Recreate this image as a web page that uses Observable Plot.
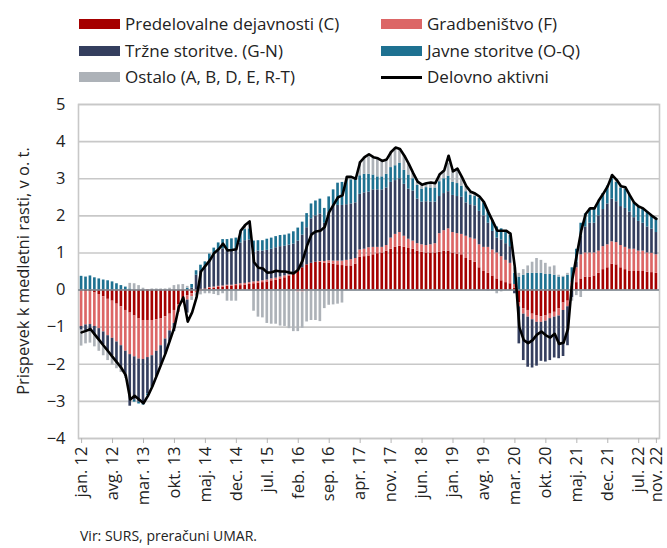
<!DOCTYPE html>
<html>
<head>
<meta charset="utf-8">
<script src="https://cdn.jsdelivr.net/npm/d3@7"></script>
<script src="https://cdn.jsdelivr.net/npm/@observablehq/plot@0.6"></script>
<style>
  html, body { margin: 0; padding: 0; background: #fff; }
  #wrap { position: relative; width: 667px; height: 548px; overflow: hidden;
          font-family: "Open Sans", "DejaVu Sans", sans-serif; color: #222; }
  .leg { position: absolute; font-size: 17px; line-height: 22px; height: 22px; white-space: nowrap; }
  .sw { display: inline-block; width: 41px; height: 10px; vertical-align: middle; margin-right: 5px; position: relative; top: -1px; }
  .swl { display: inline-block; width: 41px; height: 3px; vertical-align: middle; margin-right: 5px; background: #000; position: relative; top: -1px; }
  #ytitle { position: absolute; left: 22px; top: 271px; transform: translate(-50%, -50%) rotate(-90deg);
            font-size: 16.5px; white-space: nowrap; }
  #caption { position: absolute; left: 80px; top: 526px; font-size: 14px; white-space: nowrap; }
  #chart { position: absolute; left: 0; top: 90px; }
</style>
</head>
<body>
<div id="wrap">
  <div id="legend"></div>
  <div id="ytitle">Prispevek k medletni rasti, v o. t.</div>
  <div id="chart"></div>
  <div id="caption">Vir: SURS, preračuni UMAR.</div>
</div>
<script>
// ---- Data (contributions to y-o-y growth, p.p.), monthly jan 2012 – nov 2022 ----
const seriesNames = ["Predelovalne dejavnosti (C)", "Gradbeništvo (F)", "Tržne storitve. (G-N)", "Javne storitve (O-Q)", "Ostalo (A, B, D, E, R-T)"];
const lineName = "Delovno aktivni";
const seriesColors = ["#A50000", "#DC6666", "#343E5E", "#1E7191", "#ADB2B8"];

const manufacturing = [
  -0.03,-0.04,-0.05,-0.08,-0.12,-0.18,-0.25,-0.3,-0.38,-0.45,-0.55,-0.62,
  -0.7,-0.78,-0.82,-0.82,-0.82,-0.8,-0.78,-0.72,-0.65,-0.55,-0.4,-0.25,
  -0.15,-0.1,-0.03,0.02,0.03,0.05,0.05,0.07,0.08,0.1,0.1,0.12,
  0.12,0.13,0.15,0.17,0.18,0.2,0.22,0.25,0.27,0.3,0.33,0.38,
  0.42,0.5,0.6,0.68,0.72,0.75,0.75,0.72,0.72,0.7,0.68,0.66,
  0.65,0.65,0.7,0.88,0.9,0.92,0.95,0.98,1.0,1.05,1.1,1.15,
  1.18,1.15,1.12,1.1,1.05,1.02,1.0,1.0,1.0,1.02,1.05,1.05,
  1.0,0.97,0.95,0.85,0.8,0.75,0.6,0.5,0.45,0.38,0.3,0.25,
  0.2,0.17,0.05,-0.35,-0.5,-0.55,-0.65,-0.7,-0.72,-0.7,-0.65,-0.6,
  -0.5,-0.35,-0.3,0.1,0.2,0.3,0.35,0.35,0.38,0.45,0.55,0.6,
  0.7,0.68,0.6,0.55,0.5,0.5,0.5,0.5,0.48,0.47,0.45
];
const construction = [
  -0.95,-0.9,-0.88,-0.9,-0.92,-0.95,-0.98,-1.0,-1.02,-1.05,-1.1,-1.12,
  -1.1,-1.08,-1.05,-1.0,-0.95,-0.85,-0.72,-0.6,-0.45,-0.35,-0.2,-0.1,
  -0.12,-0.08,-0.05,-0.03,0.0,0.02,0.03,0.03,0.03,0.03,0.03,0.03,
  0.05,0.05,0.05,0.05,0.05,0.05,0.05,0.05,0.05,0.05,0.05,0.03,
  0.02,-0.05,-0.05,-0.03,-0.02,0.0,0.02,0.05,0.07,0.08,0.1,0.12,
  0.15,0.17,0.15,0.2,0.2,0.22,0.2,0.17,0.15,0.15,0.3,0.35,
  0.37,0.3,0.25,0.22,0.2,0.2,0.2,0.22,0.25,0.5,0.55,0.6,
  0.55,0.55,0.55,0.6,0.6,0.62,0.62,0.65,0.7,0.7,0.7,0.65,
  0.6,0.55,0.1,-0.1,-0.15,-0.18,-0.15,-0.17,-0.15,-0.14,-0.12,-0.13,
  -0.2,-0.2,-0.15,0.1,0.4,0.65,0.65,0.65,0.62,0.6,0.62,0.62,
  0.6,0.6,0.6,0.6,0.6,0.6,0.55,0.55,0.52,0.52,0.5
];
const marketServices = [
  -0.1,-0.15,-0.2,-0.25,-0.3,-0.34,-0.4,-0.47,-0.55,-0.6,-0.68,-1.39,
  -1.17,-1.16,-1.15,-0.98,-0.83,-0.68,-0.53,-0.41,-0.3,-0.22,0,0,
  -0.35,0.05,0.4,0.5,0.55,0.7,0.85,0.95,1.0,0.95,0.95,0.95,
  1.1,1.15,1.15,0.8,0.82,0.8,0.8,0.8,0.82,0.82,0.8,0.8,
  0.8,0.82,0.88,1.0,1.2,1.25,1.28,1.03,1.3,1.48,1.5,1.5,
  1.5,1.5,1.5,1.5,1.52,1.5,1.55,1.55,1.55,1.55,1.5,1.45,
  1.45,1.4,1.35,1.35,1.2,1.15,1.18,1.15,1.12,1.0,1.0,1.0,
  1.0,1.0,1.0,0.9,0.9,0.9,0.9,0.85,0.65,0.5,0.4,0.45,
  0.45,0.45,-0.1,-1.0,-1.25,-1.35,-1.3,-1.18,-1.05,-1.1,-1.13,-1.1,
  -1.15,-1.24,-1.05,-0.2,0.15,0.5,0.7,0.8,0.8,0.95,1.0,1.1,
  1.15,1.1,1.05,1.05,1.0,0.85,0.8,0.75,0.7,0.65,0.6
];
const publicServices = [
  0.37,0.35,0.38,0.33,0.3,0.27,0.25,0.22,0.17,0.12,0.08,0.03,
  -0.05,-0.05,-0.08,-0.05,-0.03,0,0,0,0,0,0,0,
  0.05,0.1,0.12,0.15,0.18,0.2,0.2,0.22,0.25,0.28,0.3,0.3,
  0.3,0.3,0.3,0.3,0.28,0.28,0.3,0.3,0.3,0.3,0.3,0.3,
  0.33,0.35,0.35,0.38,0.4,0.4,0.4,0.4,0.42,0.44,0.6,0.62,
  0.68,0.65,0.63,0.5,0.5,0.48,0.4,0.35,0.35,0.37,0.4,0.4,
  0.42,0.38,0.38,0.33,0.37,0.35,0.38,0.38,0.38,0.4,0.4,0.42,
  0.35,0.35,0.3,0.3,0.25,0.25,0.35,0.35,0.33,0.3,0.3,0.3,
  0.3,0.3,0.3,0.35,0.4,0.45,0.45,0.45,0.45,0.42,0.42,0.4,
  0.35,0.35,0.4,0.4,0.35,0.35,0.35,0.35,0.37,0.4,0.43,0.48,
  0.55,0.52,0.5,0.52,0.45,0.4,0.4,0.4,0.4,0.36,0.37
];
const other = [
  -0.43,-0.36,-0.3,-0.3,-0.31,-0.3,-0.27,-0.25,-0.17,-0.12,-0.05,0.15,
  0.17,0.12,0.05,0,0.03,0.03,0.03,0.03,0.05,0.12,0.14,0.15,
  0.05,-0.1,-0.08,-0.1,-0.1,-0.1,-0.12,-0.15,-0.1,-0.3,-0.3,-0.3,
  0.03,0.12,0.2,-0.57,-0.73,-0.75,-0.9,-0.92,-0.92,-0.97,-0.98,-1.04,
  -1.12,-1.07,-0.98,-0.83,-0.8,-0.82,-0.85,-0.5,-0.41,-0.4,-0.38,-0.35,
  0.07,0.08,0.02,0.37,0.46,0.54,0.48,0.5,0.43,0.4,0.42,0.49,
  0.38,0.39,0.3,0.15,0.1,0.12,0.12,0.15,0.13,0.2,0.22,0.35,
  0.3,0.4,0.25,0.15,0.1,0.08,0.05,0.02,-0.03,-0.03,-0.1,-0.05,
  0.05,0.05,0.15,0.1,0.15,0.2,0.3,0.4,0.35,0.3,0.2,0.25,
  0.05,0.02,0.05,-0.1,-0.15,-0.2,0,0.05,0.03,0.02,0,0,
  0.1,0.07,0.05,0.05,0,0,0,0,0,0,0
];
const employed = [
  -1.14,-1.1,-1.05,-1.2,-1.35,-1.5,-1.65,-1.8,-1.95,-2.1,-2.3,-2.95,
  -2.85,-2.95,-3.05,-2.85,-2.6,-2.3,-2.0,-1.7,-1.35,-1.0,-0.45,-0.2,
  -0.85,-0.6,-0.2,0.5,0.65,0.8,1.0,1.1,1.25,1.07,1.08,1.1,
  1.6,1.75,1.85,0.75,0.6,0.58,0.47,0.48,0.52,0.5,0.5,0.47,
  0.45,0.55,0.8,1.2,1.5,1.58,1.6,1.7,2.1,2.3,2.5,2.55,
  3.05,3.05,3.0,3.45,3.58,3.66,3.58,3.55,3.48,3.52,3.72,3.84,
  3.8,3.62,3.4,3.15,2.92,2.84,2.88,2.9,2.88,3.12,3.22,3.62,
  3.2,3.27,3.05,2.8,2.65,2.6,2.52,2.37,2.1,1.85,1.6,1.6,
  1.6,1.52,0.6,-1.0,-1.35,-1.43,-1.35,-1.2,-1.12,-1.22,-1.28,-1.18,
  -1.45,-1.42,-1.05,0.3,0.95,1.6,2.05,2.2,2.2,2.42,2.6,2.8,
  3.1,2.97,2.8,2.77,2.55,2.35,2.25,2.2,2.1,2.0,1.92
];

// month categories (0 = jan. 12 … 130 = nov. 22) and axis labels
const months = d3.range(employed.length);
const tickMonths = [0,7,14,21,28,35,42,49,56,63,70,77,84,91,98,105,112,119,126,130];
const tickLabels = ["jan. 12","avg. 12","mar. 13","okt. 13","maj. 14","dec. 14","jul. 15","feb. 16","sep. 16","apr. 17","nov. 17","jun. 18","jan. 19","avg. 19","mar. 20","okt. 20","maj. 21","dec. 21","jul. 22","nov. 22"];
const yTicks = [-4,-3,-2,-1,0,1,2,3,4,5];

// ---- Build long table for the library ----
const seriesValues = [manufacturing, construction, marketServices, publicServices, other];
const rows = [];
seriesNames.forEach((name, s) => {
  seriesValues[s].forEach((v, i) => rows.push({month: i, series: name, value: v}));
});
const lineRows = employed.map((v, i) => ({month: i, value: v}));

// ---- Legend (HTML) ----
const legend = document.getElementById("legend");
const legendItems = [
  {label: seriesNames[0], color: seriesColors[0]},
  {label: seriesNames[1], color: seriesColors[1]},
  {label: seriesNames[2], color: seriesColors[2]},
  {label: seriesNames[3], color: seriesColors[3]},
  {label: seriesNames[4], color: seriesColors[4]},
  {label: lineName, line: true}
];
legendItems.forEach((it, k) => {
  const div = document.createElement("div");
  div.className = "leg";
  div.style.left = (k % 2 === 0 ? 79 : 381) + "px";
  div.style.top = (13 + Math.floor(k / 2) * 26.5) + "px";
  const sw = document.createElement("span");
  if (it.line) sw.className = "swl";
  else { sw.className = "sw"; sw.style.background = it.color; }
  div.appendChild(sw);
  div.appendChild(document.createTextNode(it.label));
  legend.appendChild(div);
});

// ---- Chart ----
const labelOf = new Map(tickMonths.map((m, k) => [m, tickLabels[k]]));
const chart = Plot.plot({
  width: 667,
  height: 423,
  marginLeft: 78,
  marginRight: 8,
  marginTop: 14,
  marginBottom: 75,
  style: {fontFamily: "'Open Sans', 'DejaVu Sans', sans-serif", fontSize: "16px", color: "#222", background: "transparent", overflow: "visible"},
  x: {type: "band", domain: months, padding: 0.4, axis: null},
  y: {domain: [-4, 5], axis: null},
  color: {domain: seriesNames, range: seriesColors},
  marks: [
    Plot.ruleY(yTicks, {stroke: "#c8c8c8", strokeWidth: 1.6}),
    Plot.frame({stroke: "#c8c8c8", strokeWidth: 1.6}),
    Plot.barY(rows, {x: "month", y: "value", fill: "series"}),
    Plot.ruleY([0], {stroke: "#7d8791", strokeWidth: 1.4}),
    Plot.lineY(lineRows, {x: "month", y: "value", stroke: "#000", strokeWidth: 2.6, strokeLinejoin: "round"}),
    Plot.axisY(yTicks, {tickSize: 0, tickPadding: 13, fontSize: 16.5, fill: "#222", label: null}),
    Plot.axisX(tickMonths, {tickFormat: d => labelOf.get(d), tickRotate: -90, tickSize: 5, tickPadding: 3,
                             fontSize: 16.5, stroke: "#b5b5b5", fill: "#222", label: null})
  ]
});
document.getElementById("chart").appendChild(chart);
</script>
</body>
</html>
